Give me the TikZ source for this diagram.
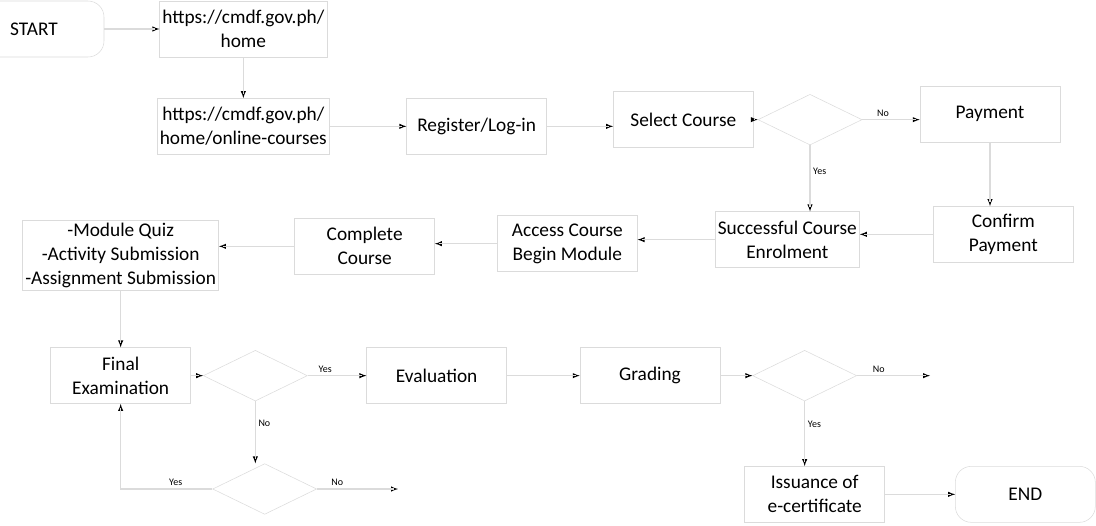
\documentclass[tikz,border=0pt]{standalone}
\usepackage{fontspec}
\setmainfont{Carlito}
\usepackage{tikz}
\usetikzlibrary{positioning, calc, shapes.geometric, shapes.misc, arrows.meta, arrows, decorations.markings}
\definecolor{faint}{gray}{0.86}
\tikzstyle{Arrow} = [
thick, color=faint,
decoration={
markings,
mark=at position 0.9999 with {
\arrow[thick]{latex}}},
shorten >= 3pt, preaction = {decorate}]
\tikzstyle{Box} = [draw=faint, thin, rectangle, align=center, inner sep=2pt,
minimum width=105pt, minimum height=42pt, text=black,
font=\fontsize{14.5}{18}\selectfont]
\tikzstyle{Term} = [Box, rounded corners=12pt]
\tikzstyle{Decision} = [draw=faint, thin, diamond, aspect=2, inner sep=0pt,
minimum width=78pt, minimum height=38pt]
\tikzstyle{Label} = [text=black, font=\fontsize{7.5}{8}\selectfont, inner sep=2pt]

\begin{document}
\begin{tikzpicture}[x=0.75pt, y=-0.75pt, on grid]
    \useasboundingbox (0,0) rectangle (1096,525);
    \node [Term] (1) at (34,29) {START};
    \node [Box, right =157pt of 1] (2) {https://cmdf.gov.ph/\\home};
    \node [Box, below =73pt of 2] (3) {https://cmdf.gov.ph/\\home/online-courses};
    \node [Box, right =175pt of 3] (4) {Register/Log-in};
    \node [Box, above right =5pt and 155pt of 4] (5) {Select Course};
    \node [Decision, right =95pt of 5] (6) {};
    \node [Box, above right =4pt and 135pt of 6] (7) {Payment};
    \node [Box, below right =90pt and 10pt of 7] (8) {Confirm\\Payment};
    \node [Box, below left =4pt and 162pt of 8] (9) {Successful Course\\Enrolment};
    \node [Box, below left =3pt and 165pt of 9] (10) {Access Course\\Begin Module};
    \node [Box, below left =2pt and 152pt of 10] (11) {Complete\\Course};
    \node [Box, below left =7pt and 183pt of 11] (12) {-Module Quiz\\-Activity Submission\\-Assignment Submission};
    \node [Box, below =90pt of 12] (13) {Final\\Examination};
    \node [Decision, right =101pt of 13] (14) {};
    \node [Box, right =136pt of 14] (15) {Evaluation};
    \node [Box, right =160pt of 15] (16) {Grading};
    \node [Decision, right =116pt of 16] (17) {};
    \node [Box, below right =89pt and 7.5pt of 17] (18) {Issuance of\\e-certificate};
    \node [Term, right =158pt of 18] (19) {END};
    \node [Decision, below right =85pt and 7pt of 14] (20) {};
    \coordinate [right =94pt of 17] (21);
    \coordinate [right =100pt of 20] (22);

    \draw[Arrow] (1) -- (2);
    \draw[Arrow] (2) -- (3);
    \draw[Arrow] (3) -- (4);
    \draw[Arrow] (4.east) -- (4.east -| 5.west);
    \draw[Arrow] (5) -- (6);
    \draw[Arrow] (6) -- node[Label, above, pos=0.36] {No} (6 -| 7.west);
    \draw[Arrow] (6) -- node[Label, right, pos=0.4] {Yes} (6 |- 9.north);
    \draw[Arrow] (7) -- (7 |- 8.north);
    \draw[Arrow] (8.west) -- (8.west -| 9.east);
    \draw[Arrow] (9.west) -- (9.west -| 10.east);
    \draw[Arrow] (10.west) -- (10.west -| 11.east);
    \draw[Arrow] (11.west) -- (11.west -| 12.east);
    \draw[Arrow] (12) -- (13);
    \draw[Arrow] (13) -- (14);
    \draw[Arrow] (14) -- node[Label, above, pos=0.3] {Yes} (15);
    \draw[Arrow] (15) -- (16);
    \draw[Arrow] (16) -- (17);
    \draw[Arrow] (17) -- node[Label, above, pos=0.3] {No} (21);
    \draw[Arrow] (17) -- node[Label, right, pos=0.35] {Yes} (17 |- 18.north);
    \draw[Arrow] (18) -- (19);
    \draw[Arrow] (14) -- node[Label, right, pos=0.35] {No} (14 |- 20.north);
    \draw[Arrow] (20.west) -| node[Label, above, pos=0.2] {Yes} (13.south);
    \draw[Arrow] (20) -- node[Label, above, pos=0.25] {No} (22);
\end{tikzpicture}
\end{document}
